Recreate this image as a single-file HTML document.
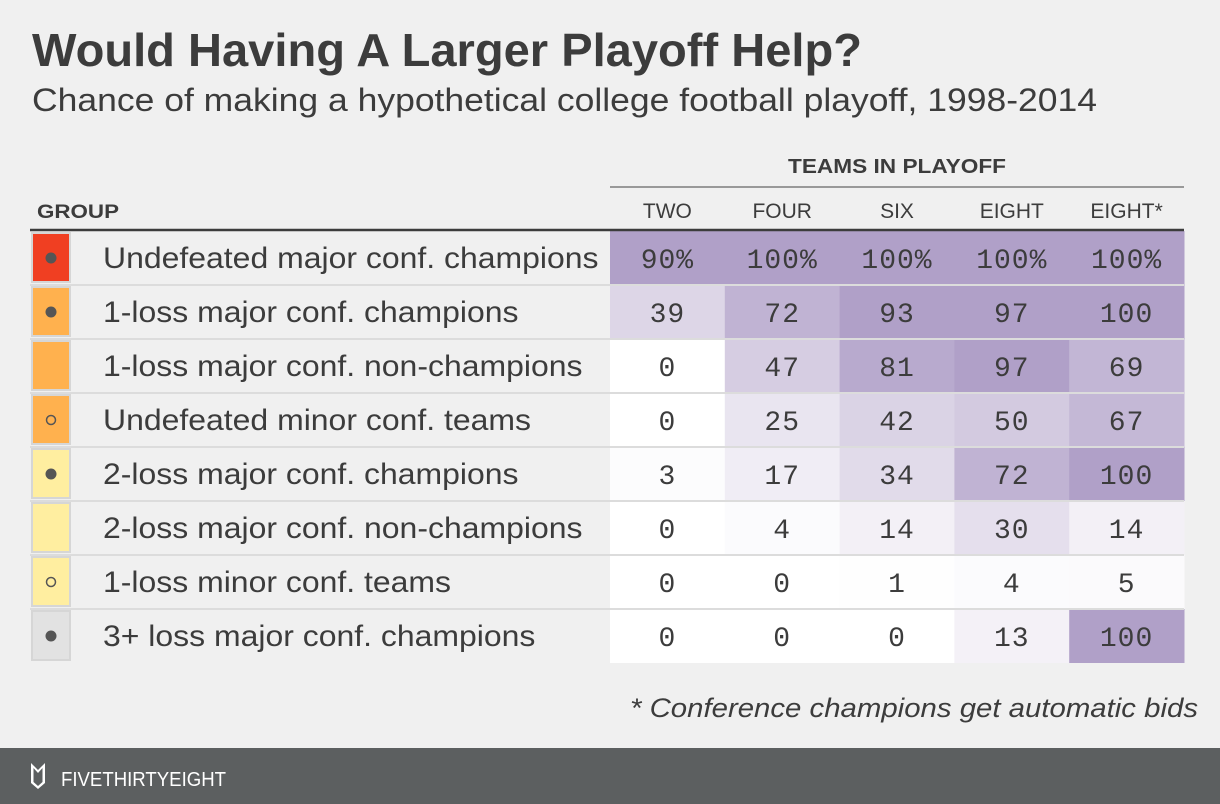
<!DOCTYPE html>
<html><head><meta charset="utf-8"><style>
html,body{margin:0;padding:0;background:#f0f0f0;}
svg{display:block;}
</style></head><body>
<svg id="chart" width="1220" height="804" viewBox="0 0 1220 804" xmlns="http://www.w3.org/2000/svg">
<rect x="0" y="0" width="1220" height="804" fill="#f0f0f0"/>
<text x="32" y="66" font-family="Liberation Sans, sans-serif" font-weight="bold" font-size="46" fill="#3c3c3c" textLength="830" lengthAdjust="spacingAndGlyphs">Would Having A Larger Playoff Help?</text>
<text x="32" y="111" font-family="Liberation Sans, sans-serif" font-size="32" fill="#3c3c3c" textLength="1065" lengthAdjust="spacingAndGlyphs">Chance of making a hypothetical college football playoff, 1998-2014</text>
<text x="897" y="173" text-anchor="middle" font-family="Liberation Sans, sans-serif" font-weight="bold" font-size="20" fill="#3c3c3c" textLength="218" lengthAdjust="spacingAndGlyphs">TEAMS IN PLAYOFF</text>
<line x1="610" y1="187" x2="1184" y2="187" stroke="#999" stroke-width="2"/>
<text x="37" y="218" font-family="Liberation Sans, sans-serif" font-weight="bold" font-size="19" fill="#3c3c3c" textLength="82" lengthAdjust="spacingAndGlyphs">GROUP</text>
<g id="grid"></g>
<line x1="30" y1="230" x2="1184" y2="230" stroke="#3c3c3c" stroke-width="2.5"/>
<text x="1198" y="717" text-anchor="end" font-family="Liberation Sans, sans-serif" font-style="italic" font-size="27" fill="#3c3c3c" textLength="568" lengthAdjust="spacingAndGlyphs">* Conference champions get automatic bids</text>
<rect x="0" y="748" width="1220" height="56" fill="#5c5f60"/>
<path d="M31 763 L34 766 L38 770 L42 766 L45 763 L45 783 L38 789 L31 783 Z M33.5 768 L33.5 782 L38 786 L42.5 782 L42.5 768 L38 773 Z" fill="#fff"/>
<text x="61" y="786" font-family="Liberation Sans, sans-serif" font-size="20" fill="#fff" textLength="165" lengthAdjust="spacingAndGlyphs">FIVETHIRTYEIGHT</text>
</svg>
<script>
const columns = ["TWO","FOUR","SIX","EIGHT","EIGHT*"];
const groups = ["Undefeated major conf. champions","1-loss major conf. champions","1-loss major conf. non-champions","Undefeated minor conf. teams","2-loss major conf. champions","2-loss major conf. non-champions","1-loss minor conf. teams","3+ loss major conf. champions"];
const swatchColors = ["#f03f22","#ffb14e","#ffb14e","#ffb14e","#ffeea0","#ffeea0","#ffeea0","#e2e2e2"];
const dotTypes = ["filled","filled","none","hollow","filled","none","hollow","filled"];
const valTwo = [90,39,0,0,3,0,0,0];
const valFour = [100,72,47,25,17,4,0,0];
const valSix = [100,93,81,42,34,14,1,0];
const valEight = [100,97,97,50,72,30,4,13];
const valEightAuto = [100,100,69,67,100,14,5,100];
const series = [valTwo,valFour,valSix,valEight,valEightAuto];

const NS = "http://www.w3.org/2000/svg";
const g = document.getElementById("grid");
const tableTop = 231, rowH = 54, colX0 = 610, colW = 114.8;
function rowY(i){ return tableTop + i*rowH; }
function colX(j){ return colX0 + j*colW; }
function shade(v){
  const t = Math.max(0, Math.min(1, v/90));
  const a = [255,255,255], b = [176,160,200];
  const c = a.map((x,k)=>Math.round(x+(b[k]-x)*t));
  return "rgb("+c.join(",")+")";
}
function mk(tag, attrs){ const e=document.createElementNS(NS,tag); for(const k in attrs) e.setAttribute(k,attrs[k]); g.appendChild(e); return e; }

columns.forEach((c,j)=>{
  const t = mk("text",{x:colX(j)+colW/2,y:218,"text-anchor":"middle","font-family":"Liberation Sans, sans-serif","font-size":"21",fill:"#3c3c3c"});
  t.textContent = c;
  
  
});

groups.forEach((name,i)=>{
  const y = rowY(i);
  const sw = mk("rect",{x:32,y:y+2,width:38,height:49,fill:swatchColors[i],stroke:"#d6d6d6","stroke-width":"2"});
  
  
  if(dotTypes[i]!=="none"){
    const d = mk("circle",{cx:51,cy:y+27,r:dotTypes[i]==="filled"?5.5:4.5,fill:dotTypes[i]==="filled"?"#555":"none",stroke:"#555","stroke-width":dotTypes[i]==="filled"?0:1.5});
    
    
  }
  const lab = mk("text",{x:103,y:y+37,"font-family":"Liberation Sans, sans-serif","font-size":"30",fill:"#3c3c3c"});
  lab.textContent = name;
  
  
  const w = lab.getComputedTextLength();
  if (w > 0) { lab.setAttribute('textLength', (w*1.065).toFixed(1)); lab.setAttribute('lengthAdjust','spacingAndGlyphs'); }
  series.forEach((vals,j)=>{
    const v = vals[i];
    const cell = mk("rect",{x:colX(j),y:y,width:colW+0.5,height:rowH,fill:shade(v)});
    
    
    const t = mk("text",{x:colX(j)+colW/2,y:y+37,"text-anchor":"middle","font-family":"Liberation Mono, monospace","font-size":"28",fill:"#3c3c3c","letter-spacing":"1"});
    t.textContent = v + (i===0 ? "%" : "");
    
    
  });
  if(i>0){
    const ln = mk("line",{x1:30,y1:y,x2:1184,y2:y,stroke:"#dcdcdc","stroke-width":"2"});
    
    
  }
});
</script>
</body></html>
